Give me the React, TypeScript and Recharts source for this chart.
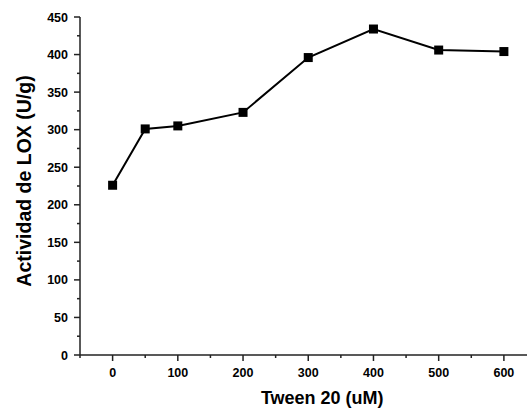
import React from 'react';
import { LineChart, Line, XAxis, YAxis, Label } from 'recharts';

const tweenConc = [0, 50, 100, 200, 300, 400, 500, 600];
const loxActivity = [226, 301, 305, 323, 396, 434, 406, 404];

const xTicks = [-50, 0, 50, 100, 150, 200, 250, 300, 350, 400, 450, 500, 550, 600, 650];
const yTicks = [0, 25, 50, 75, 100, 125, 150, 175, 200, 225, 250, 275, 300, 325, 350, 375, 400, 425, 450];

const data = tweenConc.map((x, i) => ({ x, y: loxActivity[i] }));

const FONT = '"Liberation Sans", Arial, sans-serif';
const AXIS = '#222';

const XTick = (props: any) => {
  const { x, y, payload } = props;
  const v = payload.value;
  const major = v % 100 === 0;
  return (
    <g>
      <line x1={x} x2={x} y1={y} y2={y + (major ? 6 : 3)} stroke={AXIS} strokeWidth={1.5} />
      {major && (
        <text x={x} y={y + 22} textAnchor="middle" fontFamily={FONT} fontWeight="bold" fontSize={12.5} fill="#000">
          {v}
        </text>
      )}
    </g>
  );
};

const YTick = (props: any) => {
  const { x, y, payload } = props;
  const v = payload.value;
  const major = v % 50 === 0;
  return (
    <g>
      <line x1={x - (major ? 6 : 3)} x2={x} y1={y} y2={y} stroke={AXIS} strokeWidth={1.5} />
      {major && (
        <text x={x - 12} y={y + 4.5} textAnchor="end" fontFamily={FONT} fontWeight="bold" fontSize={12.5} fill="#000">
          {v}
        </text>
      )}
    </g>
  );
};

const SquareDot = (props: any) => {
  const { cx, cy, index } = props;
  if (cx == null || cy == null) return null;
  return <rect key={index} x={cx - 4.5} y={cy - 4.5} width={9} height={9} fill="#000" />;
};

const YTitle = (props: any) => {
  const { viewBox } = props;
  const cx = viewBox.x + 24;
  const cy = viewBox.y + viewBox.height / 2 - 5;
  return (
    <text
      x={cx}
      y={cy}
      transform={`rotate(-90 ${cx} ${cy})`}
      textAnchor="middle"
      dominantBaseline="central"
      fontFamily={FONT}
      fontWeight="bold"
      fontSize={19.5}
      fill="#000"
    >
      Actividad de LOX (U/g)
    </text>
  );
};

const XTitle = (props: any) => {
  const { viewBox } = props;
  const cx = viewBox.x + viewBox.width / 2 + 14;
  return (
    <text x={cx} y={404} textAnchor="middle" fontFamily={FONT} fontWeight="bold" fontSize={18} fill="#000">
      Tween 20 (uM)
    </text>
  );
};

export default function App() {
  return (
    <div style={{ position: 'absolute', left: 0, top: 0, width: 527, height: 408, overflow: 'hidden', background: '#fff' }}>
      <LineChart width={560} height={408} data={data} margin={{ top: 17, right: 23.5, left: 0, bottom: 0 }}>
        <XAxis
          xAxisId="top"
          orientation="top"
          dataKey="x"
          type="number"
          domain={[-50, 650]}
          height={0}
          tick={false}
          tickLine={false}
          axisLine={{ stroke: AXIS, strokeWidth: 1.5 }}
        />
        <XAxis
          dataKey="x"
          type="number"
          domain={[-50, 650]}
          ticks={xTicks}
          interval={0}
          height={53}
          tickSize={0}
          tickMargin={0}
          tickLine={false}
          tick={<XTick />}
          axisLine={{ stroke: AXIS, strokeWidth: 1.5 }}
        >
          <Label content={<XTitle />} />
        </XAxis>
        <YAxis
          type="number"
          domain={[0, 450]}
          ticks={yTicks}
          interval={0}
          width={80}
          tickSize={0}
          tickMargin={0}
          tickLine={false}
          tick={<YTick />}
          axisLine={{ stroke: AXIS, strokeWidth: 1.5 }}
        >
          <Label content={<YTitle />} />
        </YAxis>
        <Line
          dataKey="y"
          stroke="#000"
          strokeWidth={2}
          dot={<SquareDot />}
          activeDot={false}
          isAnimationActive={false}
        />
      </LineChart>
    </div>
  );
}
